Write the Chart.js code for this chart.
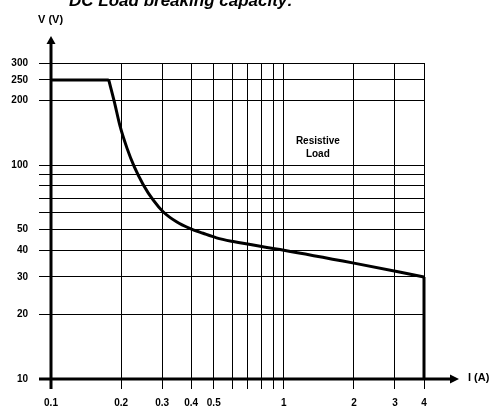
<!DOCTYPE html>
<html>
<head>
<meta charset="utf-8">
<script src="https://cdn.jsdelivr.net/npm/chart.js@4/dist/chart.umd.min.js"></script>
<style>
  html, body { margin: 0; padding: 0; background: #fff; }
  #wrap { width: 490px; height: 408px; position: relative; }
</style>
</head>
<body>
<div id="wrap"><canvas id="load-chart" width="490" height="408"></canvas></div>
<script>
// tick values (A / V) and which of them carry a label
const xTicks = [0.1, 0.2, 0.3, 0.4, 0.5, 0.6, 0.7, 0.8, 0.9, 1, 2, 3, 4];
const xLabels = [0.1, 0.2, 0.3, 0.4, 0.5, 1, 2, 3, 4];
const yTicks = [10, 20, 30, 40, 50, 60, 70, 80, 90, 100, 200, 250, 300];
const yLabels = [10, 20, 30, 40, 50, 100, 200, 250, 300];

// breaking capacity curve
const flatI = [0.1, 0.177];
const flatV = [250, 250];
const curveI = [0.177, 0.187, 0.198, 0.212, 0.228, 0.249, 0.275, 0.303, 0.346, 0.394, 0.45, 0.514, 0.607, 0.846, 1, 2, 4];
const curveV = [250, 198, 152, 120, 98, 81, 68.5, 60.5, 54.3, 50.6, 48, 45.7, 43.9, 41.2, 40, 34.8, 30];
const dropI = [4, 4];
const dropV = [30, 10];

const noteLines = ['Resistive', 'Load'];
const noteAt = { i: 1.4, v: [131, 113] };

const FONT = '"Liberation Sans", Arial, sans-serif';

function pts(xs, ys) {
  return xs.map((x, i) => ({ x: x, y: ys[i] }));
}

const lineStyle = {
  borderColor: '#000',
  borderWidth: 3,
  pointRadius: 0,
  fill: false,
  clip: false
};

const decorations = {
  id: 'decorations',
  afterDatasetsDraw(chart) {
    const ctx = chart.ctx;
    const xs = chart.scales.x;
    const ys = chart.scales.y;
    const x0 = xs.getPixelForValue(xTicks[0]);
    const y0 = ys.getPixelForValue(yTicks[0]);
    const yTop = ys.getPixelForValue(yTicks[yTicks.length - 1]);
    const xEnd = xs.getPixelForValue(xTicks[xTicks.length - 1]);
    ctx.save();
    ctx.strokeStyle = '#000';
    ctx.fillStyle = '#000';
    ctx.lineWidth = 3;
    // vertical axis
    ctx.beginPath();
    ctx.moveTo(x0, y0 + 10);
    ctx.lineTo(x0, yTop - 20);
    ctx.stroke();
    ctx.beginPath();
    ctx.moveTo(x0, yTop - 27);
    ctx.lineTo(x0 - 4.5, yTop - 19);
    ctx.lineTo(x0 + 4.5, yTop - 19);
    ctx.closePath();
    ctx.fill();
    // horizontal axis
    ctx.beginPath();
    ctx.moveTo(x0 - 12, y0);
    ctx.lineTo(xEnd + 28, y0);
    ctx.stroke();
    ctx.beginPath();
    ctx.moveTo(xEnd + 35, y0);
    ctx.lineTo(xEnd + 26, y0 - 4.5);
    ctx.lineTo(xEnd + 26, y0 + 4.5);
    ctx.closePath();
    ctx.fill();

    ctx.font = 'bold 11px ' + FONT;
    ctx.textBaseline = 'middle';
    ctx.textAlign = 'left';
    ctx.fillText('V (V)', x0 - 13, 20);
    ctx.fillText('I (A)', xEnd + 44, y0 - 1);

    ctx.font = 'bold 10px ' + FONT;
    ctx.textAlign = 'center';
    const nx = xs.getPixelForValue(noteAt.i);
    noteLines.forEach((t, k) => {
      ctx.fillText(t, nx, ys.getPixelForValue(noteAt.v[k]) + 1);
    });

    ctx.font = 'italic bold 17px ' + FONT;
    ctx.textBaseline = 'alphabetic';
    ctx.fillText('DC Load breaking capacity:', 181, 6);
    ctx.restore();
  }
};

function drawChart() {
  const ctx = document.getElementById('load-chart').getContext('2d');
  new Chart(ctx, {
    type: 'scatter',
    data: {
      datasets: [
        Object.assign({ data: pts(flatI, flatV), showLine: true, tension: 0 }, lineStyle),
        Object.assign({ data: pts(curveI, curveV), showLine: true, cubicInterpolationMode: 'monotone' }, lineStyle),
        Object.assign({ data: pts(dropI, dropV), showLine: true, tension: 0 }, lineStyle)
      ]
    },
    options: {
      responsive: false,
      animation: false,
      layout: { padding: { top: 63, right: 66, left: 0, bottom: 0 } },
      plugins: {
        legend: { display: false },
        tooltip: { enabled: false }
      },
      scales: {
        x: {
          type: 'logarithmic',
          min: 0.1,
          max: 4,
          afterBuildTicks: scale => { scale.ticks = xTicks.map(v => ({ value: v })); },
          afterFit: scale => { scale.height = 29; },
          border: { display: false },
          grid: { color: '#000', lineWidth: 1, tickLength: 10, tickColor: '#000' },
          ticks: {
            autoSkip: false,
            maxRotation: 0,
            padding: 8,
            color: '#000',
            font: { family: FONT, size: 10, weight: 'bold' },
            callback: v => xLabels.includes(v) ? String(v) : ''
          }
        },
        y: {
          type: 'logarithmic',
          min: 10,
          max: 300,
          afterBuildTicks: scale => { scale.ticks = yTicks.map(v => ({ value: v })); },
          afterFit: scale => { scale.width = 51; },
          border: { display: false },
          grid: { color: '#000', lineWidth: 1, tickLength: 12, tickColor: '#000' },
          ticks: {
            autoSkip: false,
            padding: 11,
            color: '#000',
            font: { family: FONT, size: 10, weight: 'bold' },
            callback: v => yLabels.includes(v) ? String(v) : ''
          }
        }
      }
    },
    plugins: [decorations]
  });
}

document.addEventListener('DOMContentLoaded', function () {
  drawChart();
});
</script>
</body>
</html>
